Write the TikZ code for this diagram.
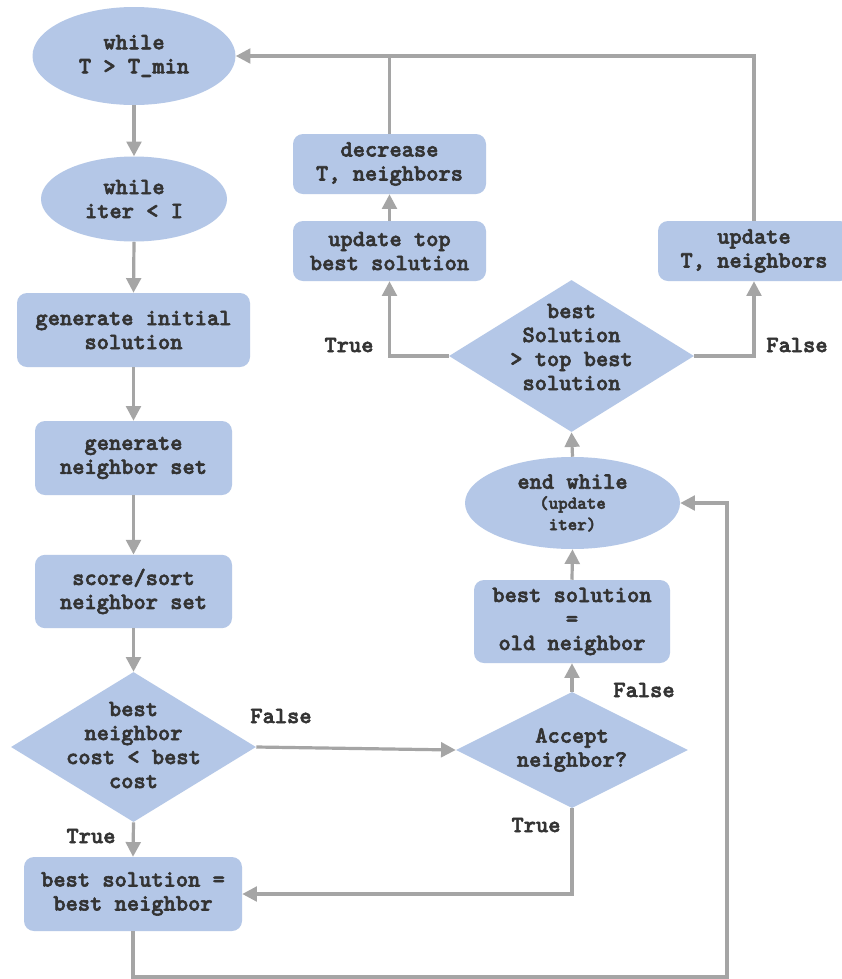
\documentclass[tikz,border=0pt]{standalone}
\usepackage{fontspec}
\usetikzlibrary{shapes.geometric,arrows.meta}
\definecolor{boxblue}{HTML}{B4C7E7}
\definecolor{lineg}{HTML}{A5A5A5}
\definecolor{txtc}{HTML}{333333}
\newfontfamily\cmono{lmmonolt10-bold.otf}[FakeBold=2.5]
\newcommand\fcmain{\cmono\fontsize{17.5}{18}\selectfont}
\newcommand\fcsmall{\cmono\fontsize{13.6}{15.5}\selectfont}
\begin{document}
\begin{tikzpicture}[x=0.75pt,y=-0.75pt,
  every node/.style={text=txtc, font=\fcmain, align=center, inner sep=0pt},
  boxn/.style={rectangle, rounded corners=7.5pt, fill=boxblue},
  ovaln/.style={ellipse, fill=boxblue},
  dian/.style={diamond, fill=boxblue},
  arr/.style={draw=lineg, line width=2.4pt, -{Triangle[length=11pt,width=11pt]}},
  ln/.style={draw=lineg, line width=2.4pt},
  lbl/.style={font=\fcmain}]
\useasboundingbox (0,0) rectangle (842,979);
\fill[white] (0,0) rectangle (842,979);

% left column
\node[ovaln, minimum width=152.25pt, minimum height=73.5pt] (e1) at (134,56) {while\\T > T\_min};
\node[ovaln, minimum width=139.5pt, minimum height=63.75pt] (e2) at (134,199) {while\\iter < I};
\node[boxn, minimum width=174.75pt, minimum height=55.5pt] (b3) at (133.5,330) {generate initial\\solution};
\node[boxn, minimum width=147.75pt, minimum height=55.5pt] (b4) at (133.5,458) {generate\\neighbor set};
\node[boxn, minimum width=147.75pt, minimum height=55pt] (b5) at (133.5,591.5) {score/sort\\neighbor set};
\node[dian, minimum width=183.75pt, minimum height=112.5pt] (d6) at (133.5,747) {};
\node (d6t) at (133.5,745) {best\\neighbor\\cost < best\\cost};
\node[boxn, minimum width=163.5pt, minimum height=55.5pt] (b7) at (133,894) {best solution =\\best neighbor};

% right column
\node[dian, minimum width=174pt, minimum height=87pt] (d8) at (572,750) {};
\node (d8t) at (572,750) {Accept\\neighbor?};
\node[boxn, minimum width=147pt, minimum height=62.25pt] (b9) at (572,621.5) {best solution\\=\\old neighbor};
\node[ovaln, minimum width=161.25pt, minimum height=69pt] (e10) at (572.5,503) {end while\\[-3pt]{\fcsmall (update}\\[-2pt]{\fcsmall iter)}};
\node[dian, minimum width=183.75pt, minimum height=114pt] (d11) at (571.5,356) {};
\node (d11t) at (571.5,347) {best\\Solution\\> top best\\solution};
\node[boxn, minimum width=144.75pt, minimum height=45pt] (b12) at (389.5,251) {update top\\best solution};
\node[boxn, minimum width=144.75pt, minimum height=45pt] (b13) at (389.5,164) {decrease\\T, neighbors};
\node[boxn, minimum width=144pt, minimum height=45pt] (b14) at (754,251) {update\\T, neighbors};

\coordinate (c1) at (727,977);

% connectors
\draw[arr] (e1) -- (e2);
\draw[arr] (e2.south) -- (b3.north);
\draw[arr] (b3) -- (b4);
\draw[arr] (b4) -- (b5);
\draw[arr] (b5.south) -- (d6.north);
\draw[arr] (d6.south) -- (b7.north);
\draw[arr] (d6.east) -- (d8.west);
\draw[arr] (d8.south) |- (b7.east);
\draw[arr] (d8.north) -- (b9.south);
\draw[arr] (b9.north) -- (e10.south);
\draw[arr] (b7.south) |- (c1) |- (e10.east);
\draw[arr] (e10.north) -- (d11.south);
\draw[arr] (d11.west) -| (b12.south);
\draw[arr] (d11.east) -| (b14.south);
\draw[arr] (b12.north) -- (b13.south);
\draw[ln] (b13.north) -- (b13.north |- e1.east);
\draw[arr] (b14.north) |- (e1.east);

% labels
\node[lbl] (t1) at (349,345) {True};
\node[lbl] (f1) at (797,345) {False};
\node[lbl] (f2) at (281,716) {False};
\node[lbl] (t2) at (536,825) {True};
\node[lbl] (f3) at (644,690) {False};
\node[lbl] (t3) at (91,836) {True};
\end{tikzpicture}
\end{document}
